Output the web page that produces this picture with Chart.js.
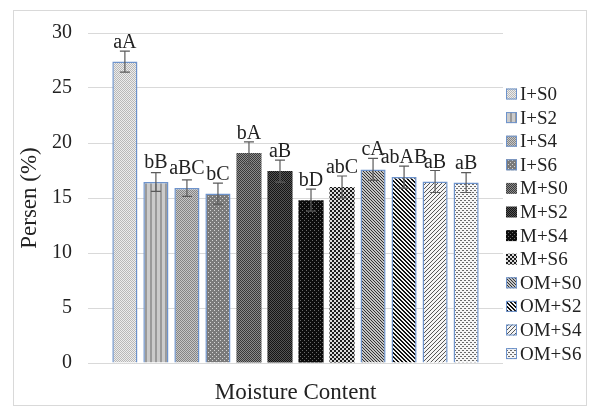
<!DOCTYPE html>
<html>
<head>
<meta charset="utf-8">
<script src="https://cdn.jsdelivr.net/npm/chart.js@4.4.1/dist/chart.umd.min.js"></script>
<style>
  html, body { margin: 0; padding: 0; background: #fff; }
  #frame { position: absolute; left: 13px; top: 10px; width: 572px; height: 394px; border: 1px solid #d9d9d9; }
  #wrap { position: absolute; left: 0; top: 0; width: 593px; height: 411px; }
</style>
</head>
<body>
<div id="frame"></div>
<div id="wrap"><canvas id="chart" width="593" height="411"></canvas></div>
<script>
// data
var categories = ['Moisture Content'];
var treatments = ['I+S0', 'I+S2', 'I+S4', 'I+S6', 'M+S0', 'M+S2', 'M+S4', 'M+S6', 'OM+S0', 'OM+S2', 'OM+S4', 'OM+S6'];
var persen = [27.4, 16.45, 15.9, 15.4, 19.1, 17.45, 14.8, 16.0, 17.6, 16.9, 16.5, 16.4];
var galat = [0.95, 0.85, 0.75, 0.95, 1.0, 1.0, 1.0, 1.0, 1.0, 1.0, 1.0, 0.9];
var notasi = ['aA', 'bB', 'aBC', 'bC', 'bA', 'aB', 'bD', 'abC', 'cA', 'abAB', 'aB', 'aB'];
var yMin = 0, yMax = 30, yStep = 5;

var serif = "'Liberation Serif', 'Times New Roman', serif";
var textColor = '#222';
var blue = '#6d93cc';

var canvas = document.getElementById('chart');
var ctx = canvas.getContext('2d');

// small tile patterns, Excel-like fills
function tile(w, h, draw) {
    var c = document.createElement('canvas');
    c.width = w; c.height = h;
    draw(c.getContext('2d'));
    return ctx.createPattern(c, 'repeat');
}
function checker(a, b, s) {
    return tile(2 * s, 2 * s, function (g) {
        g.fillStyle = a; g.fillRect(0, 0, 2 * s, 2 * s);
        g.fillStyle = b; g.fillRect(0, 0, s, s); g.fillRect(s, s, s, s);
    });
}
function dots(bg, fg) {
    return tile(4, 4, function (g) {
        g.fillStyle = bg; g.fillRect(0, 0, 4, 4);
        g.fillStyle = fg; g.fillRect(0, 0, 1, 1); g.fillRect(2, 2, 1, 1);
    });
}
function diag(bg, fg, period, thick, up) {
    return tile(period, period, function (g) {
        g.fillStyle = bg; g.fillRect(0, 0, period, period);
        g.fillStyle = fg;
        for (var y = 0; y < period; y++) {
            for (var x = 0; x < period; x++) {
                var k = up ? (x + y) % period : (x - y + period) % period;
                if (k < thick) g.fillRect(x, y, 1, 1);
            }
        }
    });
}

var fills = [
    checker('#ececec', '#b8b8b8', 1),
    tile(5, 1, function (g) { g.fillStyle = '#cbcbcb'; g.fillRect(0, 0, 5, 1); g.fillStyle = '#9a9a9a'; g.fillRect(0, 0, 2, 1); }),
    checker('#c6c6c6', '#858585', 1),
    dots('#7a7a7a', '#d4d4d4'),
    checker('#8c8c8c', '#3a3a3a', 1),
    checker('#545454', '#141414', 1),
    dots('#0c0c0c', '#6a6a6a'),
    checker('#dadada', '#1c1c1c', 2),
    diag('#c4c4c4', '#333333', 3, 1, false),
    diag('#f4f4f4', '#111111', 4, 2, false),
    diag('#f4f4f4', '#555555', 4, 1, true),
    tile(4, 4, function (g) { g.fillStyle = '#f6f6f6'; g.fillRect(0, 0, 4, 4); g.fillStyle = '#6a6a6a'; g.fillRect(0, 0, 2, 1); g.fillRect(2, 2, 2, 1); })
];
var borders = [blue, blue, blue, blue, null, null, null, null, blue, blue, blue, blue];

var datasets = treatments.map(function (name, i) {
    return {
        label: name,
        data: [persen[i]],
        backgroundColor: fills[i],
        borderColor: borders[i] || 'rgba(0,0,0,0)',
        borderWidth: borders[i] ? 1.5 : 0,
        categoryPercentage: 0.897,
        barPercentage: 0.81
    };
});

// error bars
var errorBars = {
    id: 'errorBars',
    afterDatasetsDraw: function (chart) {
        var y = chart.scales.y;
        var c = chart.ctx;
        c.save();
        c.strokeStyle = '#5a5a5a';
        c.lineWidth = 1.2;
        chart.data.datasets.forEach(function (ds, i) {
            var bar = chart.getDatasetMeta(i).data[0];
            var top = y.getPixelForValue(persen[i] + galat[i]);
            var bot = y.getPixelForValue(persen[i] - galat[i]);
            c.beginPath();
            c.moveTo(bar.x, top); c.lineTo(bar.x, bot);
            c.moveTo(bar.x - 5, top); c.lineTo(bar.x + 5, top);
            c.moveTo(bar.x - 5, bot); c.lineTo(bar.x + 5, bot);
            c.stroke();
        });
        c.restore();
    }
};

// letter notation above each bar
var barLabels = {
    id: 'barLabels',
    afterDatasetsDraw: function (chart) {
        var c = chart.ctx;
        c.save();
        c.font = '20px ' + serif;
        c.fillStyle = textColor;
        c.textAlign = 'center';
        c.textBaseline = 'alphabetic';
        chart.data.datasets.forEach(function (ds, i) {
            var bar = chart.getDatasetMeta(i).data[0];
            c.fillText(notasi[i], bar.x, bar.y - 14);
        });
        c.restore();
    }
};

// legend on the right, drawn with the same fills
var sideLegend = {
    id: 'sideLegend',
    afterDraw: function (chart) {
        var c = chart.ctx;
        var area = chart.chartArea;
        var x0 = area.right + 3;
        var y0 = area.top + 61;
        var step = 23.6;
        c.save();
        c.font = '19px ' + serif;
        c.textBaseline = 'middle';
        c.textAlign = 'left';
        chart.data.datasets.forEach(function (ds, i) {
            var cy = y0 + i * step;
            c.fillStyle = ds.backgroundColor;
            c.fillRect(x0, cy - 5.5, 11, 11);
            if (borders[i]) {
                c.strokeStyle = blue;
                c.lineWidth = 1;
                c.strokeRect(x0 + 0.5, cy - 5, 10, 10);
            }
            c.fillStyle = textColor;
            c.fillText(ds.label, x0 + 14, cy + 1);
        });
        c.restore();
    }
};

var myChart = new Chart(ctx, {
    type: 'bar',
    data: { labels: categories, datasets: datasets },
    options: {
        responsive: false,
        animation: false,
        layout: { padding: { top: 33, right: 90, left: 0, bottom: 0 } },
        plugins: {
            legend: { display: false },
            tooltip: { enabled: false }
        },
        scales: {
            x: {
                ticks: { display: false },
                grid: { display: false },
                border: { display: false },
                title: { display: true, text: 'Moisture Content', color: textColor, font: { family: serif, size: 23 }, padding: { top: 0, bottom: 4 } },
                afterFit: function (s) { s.height = 48; }
            },
            y: {
                min: yMin, max: yMax,
                ticks: { stepSize: yStep, color: textColor, font: { family: serif, size: 20 }, padding: 16 },
                grid: { color: '#d9d9d9', lineWidth: 1, drawTicks: false },
                border: { display: false },
                title: { display: true, text: 'Persen (%)', color: textColor, font: { family: serif, size: 23 }, padding: { top: 16, bottom: 0 } },
                afterFit: function (s) { s.width = 88; }
            }
        }
    },
    plugins: [errorBars, barLabels, sideLegend]
});
</script>
</body>
</html>
